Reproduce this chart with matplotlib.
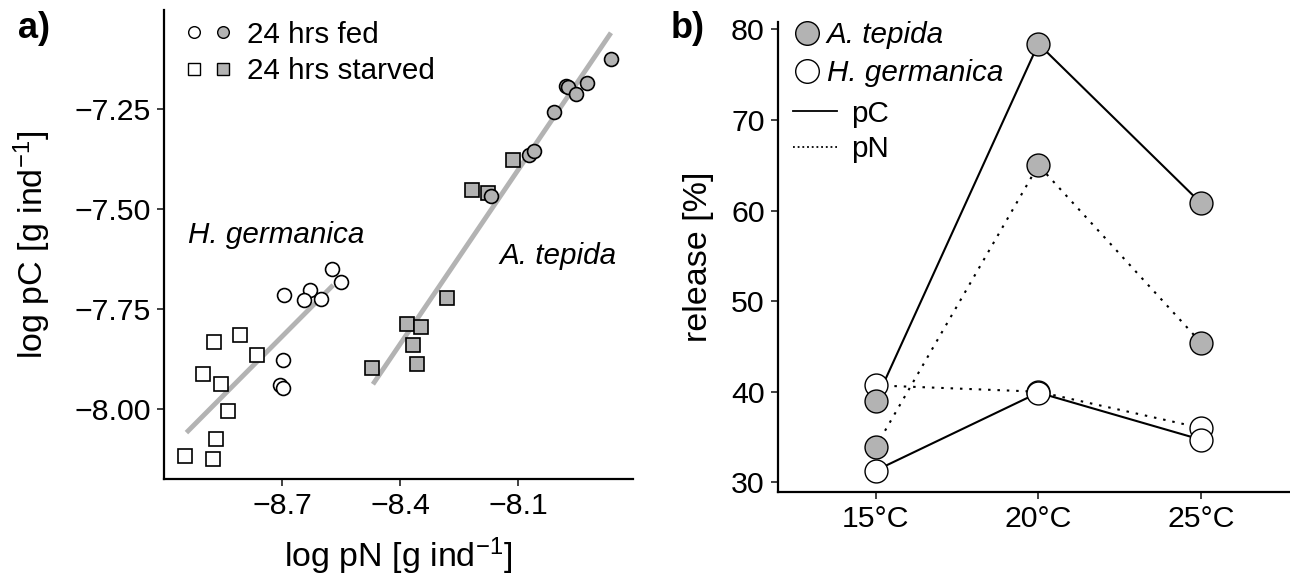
import matplotlib.pyplot as plt
from matplotlib.legend_handler import HandlerTuple
from matplotlib.lines import Line2D

plt.rcParams['font.family'] = ['Liberation Sans', 'DejaVu Sans']
plt.rcParams['mathtext.fontset'] = 'custom'
plt.rcParams['mathtext.rm'] = 'Liberation Sans'
plt.rcParams['mathtext.it'] = 'Liberation Sans:italic'

grey = '#b3b3b3'

# panel a) -- H. germanica (open) and A. tepida (grey)
hg_fed_x = [-8.574, -8.549, -8.696, -8.628, -8.644, -8.600, -8.697, -8.706, -8.697]
hg_fed_y = [-7.652, -7.683, -7.716, -7.703, -7.728, -7.726, -7.878, -7.941, -7.949]
hg_starv_x = [-8.873, -8.806, -8.763, -8.902, -8.856, -8.838, -8.869, -8.946, -8.876]
hg_starv_y = [-7.833, -7.817, -7.865, -7.914, -7.939, -8.006, -8.077, -8.118, -8.126]
at_fed_x = [-8.169, -8.072, -8.059, -8.008, -7.979, -7.974, -7.953, -7.925, -7.864]
at_fed_y = [-7.468, -7.366, -7.355, -7.257, -7.193, -7.196, -7.212, -7.186, -7.125]
at_starv_x = [-8.471, -8.382, -8.346, -8.367, -8.358, -8.281, -8.217, -8.176, -8.113]
at_starv_y = [-7.898, -7.789, -7.797, -7.841, -7.888, -7.723, -7.453, -7.460, -7.377]
hg_fit_x = [-8.943, -8.570]
hg_fit_y = [-8.060, -7.691]
at_fit_x = [-8.469, -7.864]
at_fit_y = [-7.939, -7.060]

# panel b) -- release [%]
temps = ['15°C', '20°C', '25°C']
at_pC = [39.0, 78.4, 60.8]
at_pN = [33.9, 65.0, 45.4]
hg_pC = [31.3, 39.9, 34.7]
hg_pN = [40.7, 40.0, 36.0]

fig = plt.figure(figsize=(12.9, 5.79), dpi=100)
ax1 = fig.add_axes([164/1290, 100/579, 469/1290, 469/579])
ax2 = fig.add_axes([778/1290, 87/579, 511/1290, 470.3/579])

tick_fs = 21.8
lab_fs = 24.5
txt_fs = 21.3

for ax in (ax1, ax2):
    for s in ['top', 'right']:
        ax.spines[s].set_visible(False)
    for s in ['left', 'bottom']:
        ax.spines[s].set_linewidth(1.6)
    ax.tick_params(direction='out', length=5, width=1.3, labelsize=tick_fs,
                   color='#333333', pad=4.5)

# ---- a)
ax1.plot(hg_fit_x, hg_fit_y, color=grey, lw=3.5, solid_capstyle='butt', zorder=1)
ax1.plot(at_fit_x, at_fit_y, color=grey, lw=3.5, solid_capstyle='butt', zorder=1)
ms = 10
ax1.plot(hg_starv_x, hg_starv_y, 's', ms=ms, mfc='white', mec='black', mew=1.2, zorder=2)
ax1.plot(hg_fed_x, hg_fed_y, 'o', ms=ms, mfc='white', mec='black', mew=1.2, zorder=2)
ax1.plot(at_starv_x, at_starv_y, 's', ms=ms, mfc=grey, mec='black', mew=1.2, zorder=2)
ax1.plot(at_fed_x, at_fed_y, 'o', ms=ms, mfc=grey, mec='black', mew=1.2, zorder=2)

ax1.set_xlim(-9.0, -7.808)
ax1.set_ylim(-8.176, -7.003)
ax1.set_xticks([-8.7, -8.4, -8.1])
ax1.set_xticklabels(['\u22128.7', '\u22128.4', '\u22128.1'])
ax1.set_yticks([-8.0, -7.75, -7.5, -7.25])
ax1.set_yticklabels(['\u22128.00', '\u22127.75', '\u22127.50', '\u22127.25'])
ax1.set_xlabel('log pN [g ind$^{\u22121}$]', fontsize=lab_fs)
ax1.set_ylabel('log pC [g ind$^{\u22121}$]', fontsize=lab_fs)
ax1.xaxis.set_label_coords(0.5, -0.12)
ax1.yaxis.set_label_coords(-0.236, 0.5)

ax1.text(0.051, 0.52, 'H. germanica', transform=ax1.transAxes, fontsize=txt_fs,
         style='italic', va='center')
ax1.text(0.716, 0.476, 'A. tepida', transform=ax1.transAxes, fontsize=txt_fs,
         style='italic', va='center')

lm = 8.4
h_fed = (Line2D([], [], ls='', marker='o', ms=lm, mfc='white', mec='black', mew=1),
         Line2D([], [], ls='', marker='o', ms=lm, mfc=grey, mec='black', mew=1))
h_st = (Line2D([], [], ls='', marker='s', ms=lm, mfc='white', mec='black', mew=1),
        Line2D([], [], ls='', marker='s', ms=lm, mfc=grey, mec='black', mew=1))
ax1.legend([h_fed, h_st], ['24 hrs fed', '24 hrs starved'],
           handler_map={tuple: HandlerTuple(ndivide=None, pad=0.6)},
           loc='upper left', bbox_to_anchor=(0.05, 0.977), frameon=False, fontsize=txt_fs,
           handlelength=1.42, handletextpad=0.59, labelspacing=0.28,
           borderaxespad=0, borderpad=0)

fig.text(18/1290, 1 - 29/579, 'a)', fontsize=26, fontweight='bold', va='center')
fig.text(671/1290, 1 - 29/579, 'b)', fontsize=26, fontweight='bold', va='center')

# ---- b)
xi = range(len(temps))
ax2.plot(xi, at_pC, '-', color='black', lw=1.5, zorder=1)
ax2.plot(xi, hg_pC, '-', color='black', lw=1.5, zorder=1)
ax2.plot(xi, at_pN, color='black', lw=1.5, dashes=(1.2, 3.3), zorder=1)
ax2.plot(xi, hg_pN, color='black', lw=1.5, dashes=(1.2, 3.3), zorder=1)
bm = 16.5
ax2.plot(xi, hg_pN, 'o', ls='', ms=bm, mfc='white', mec='black', mew=1, zorder=2)
ax2.plot(xi, at_pN, 'o', ls='', ms=bm, mfc=grey, mec='black', mew=1, zorder=2)
ax2.plot(xi, hg_pC, 'o', ls='', ms=bm, mfc='white', mec='black', mew=1, zorder=3)
ax2.plot(xi, at_pC, 'o', ls='', ms=bm, mfc=grey, mec='black', mew=1, zorder=3)

ax2.set_xlim(-0.6, 2.54)
ax2.set_ylim(28.93, 80.84)
ax2.set_xticks(list(xi))
ax2.set_xticklabels(temps)
ax2.set_yticks([30, 40, 50, 60, 70, 80])
ax2.set_ylabel('release [%]', fontsize=lab_fs)
ax2.yaxis.set_label_coords(-0.125, 0.5)

sp_h = [Line2D([], [], ls='', marker='o', ms=17, mfc=grey, mec='black', mew=1),
        Line2D([], [], ls='', marker='o', ms=17, mfc='white', mec='black', mew=1)]
leg1 = ax2.legend(sp_h, ['A. tepida', 'H. germanica'], loc='upper left',
                  bbox_to_anchor=(0.0326, 1.0016), frameon=False, fontsize=txt_fs,
                  handlelength=0.81, handletextpad=0.27, labelspacing=0.35,
                  borderaxespad=0, borderpad=0)
for t in leg1.get_texts():
    t.set_style('italic')
ax2.add_artist(leg1)

ln_h = [Line2D([], [], ls='-', color='black', lw=1.3),
        Line2D([], [], color='black', lw=1.3, dashes=(1, 1.6))]
ax2.legend(ln_h, ['pC', 'pN'], loc='upper left', bbox_to_anchor=(0.0293, 0.834),
           frameon=False, fontsize=txt_fs, handlelength=1.48, handletextpad=0.5,
           labelspacing=0.24, borderaxespad=0, borderpad=0)

fig.savefig('out.png', dpi=100)
